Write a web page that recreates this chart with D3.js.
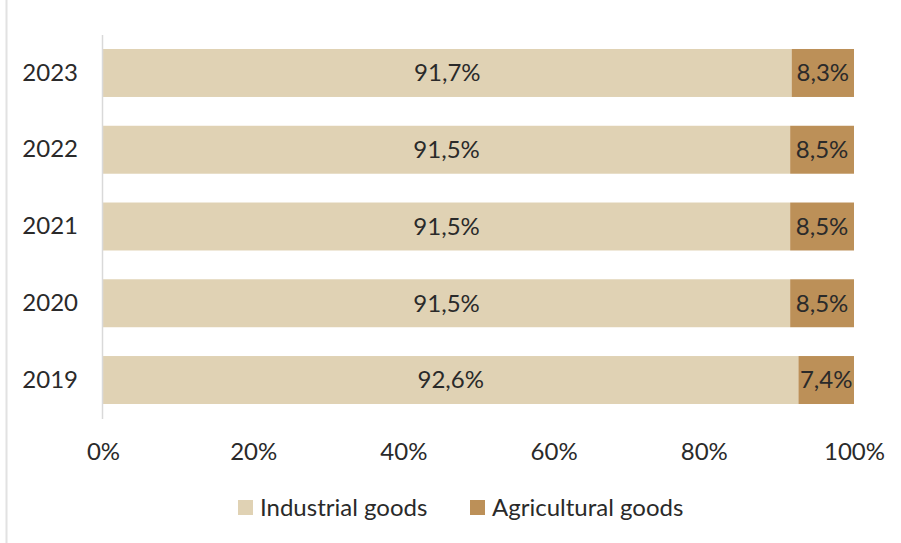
<!DOCTYPE html>
<html>
<head>
<meta charset="utf-8">
<script src="https://cdn.jsdelivr.net/npm/d3@7"></script>
<style>
  html, body { margin: 0; padding: 0; background: #fff; }
  svg { display: block; font-family: Lato, "Open Sans", sans-serif; }
</style>
</head>
<body>
<svg id="chart" width="901" height="543"></svg>
<script>
// Share of exports by type of goods, per year
const years = ["2023", "2022", "2021", "2020", "2019"];
const industrial = [91.7, 91.5, 91.5, 91.5, 92.6];
const agricultural = [8.3, 8.5, 8.5, 8.5, 7.4];
const seriesNames = ["Industrial goods", "Agricultural goods"];
const seriesColors = ["#E0D2B4", "#BC9058"];
const xTicks = [0, 20, 40, 60, 80, 100];

const svg = d3.select("#chart");
const textColor = "#2a2a2a";
const fontSize = 24;
const fontFamily = "Lato, 'Open Sans', sans-serif";

// thin frame line on the left edge
svg.append("line")
  .attr("x1", 6.5).attr("x2", 6.5)
  .attr("y1", 0).attr("y2", 543)
  .attr("stroke", "#e2e2e2").attr("stroke-width", 2);

const x = d3.scaleLinear().domain([0, 100]).range([103, 854]);
const y = d3.scaleBand().domain(years).range([34.6, 418.4]).paddingInner(0.375).paddingOuter(0.1875);

const rows = years.map((yr, i) => ({ year: yr, values: [industrial[i], agricultural[i]] }));
const fmt = v => v.toFixed(1).replace(".", ",") + "%";

rows.forEach(r => {
  let start = 0;
  r.values.forEach((v, k) => {
    const x0 = x(start), x1 = x(start + v);
    svg.append("rect")
      .attr("x", x0).attr("width", x1 - x0)
      .attr("y", y(r.year)).attr("height", y.bandwidth())
      .attr("fill", seriesColors[k]);
    svg.append("text")
      .attr("x", (x0 + x1) / 2)
      .attr("y", y(r.year) + y.bandwidth() / 2)
      .attr("dy", "0.35em")
      .attr("text-anchor", "middle")
      .attr("font-size", fontSize)
      .attr("fill", textColor)
      .text(fmt(v));
    start += v;
  });
});

// category axis
const yAxis = svg.append("g")
  .attr("transform", `translate(${x(0) - 1},0)`)
  .call(d3.axisLeft(y).tickSize(0).tickPadding(24));
yAxis.select(".domain").attr("stroke", "#d9d9d9").attr("stroke-width", 1.5);
yAxis.selectAll("text").attr("font-size", fontSize).attr("fill", textColor).attr("font-family", fontFamily);

// value axis (labels only)
const xAxis = svg.append("g")
  .attr("transform", "translate(0,418)")
  .call(d3.axisBottom(x).tickValues(xTicks).tickFormat(d => d + "%").tickSize(0).tickPadding(25));
xAxis.select(".domain").remove();
xAxis.selectAll("text").attr("font-size", fontSize).attr("fill", textColor).attr("font-family", fontFamily);

// legend
const legendX = [238, 470];
seriesNames.forEach((name, k) => {
  const g = svg.append("g").attr("transform", `translate(${legendX[k]},500)`);
  g.append("rect").attr("width", 15).attr("height", 15).attr("fill", seriesColors[k]);
  g.append("text")
    .attr("x", 22).attr("y", 7.5).attr("dy", "0.35em")
    .attr("font-size", fontSize).attr("fill", textColor)
    .text(name);
});
</script>
</body>
</html>
